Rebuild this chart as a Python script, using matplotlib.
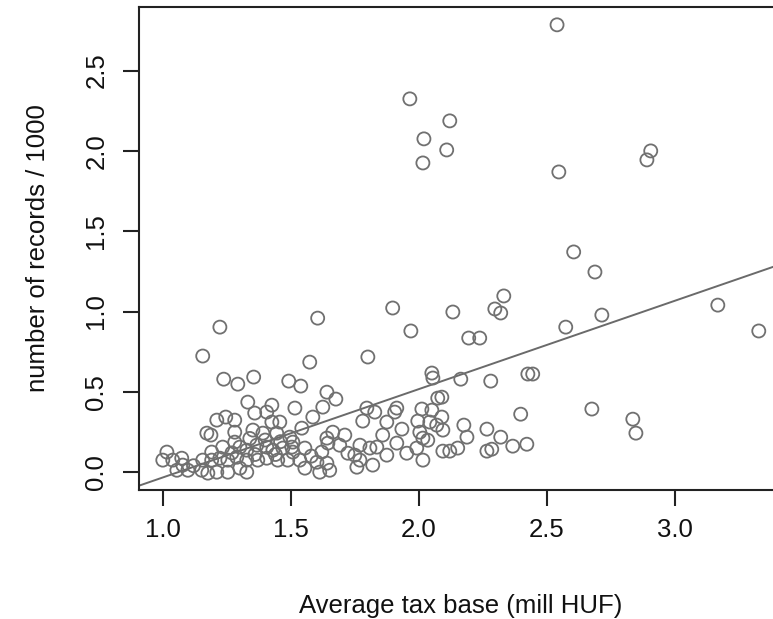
import matplotlib
matplotlib.use('Agg')
import matplotlib.pyplot as plt

# ── data ──────────────────────────────────────────────────────────────────────
tax_base = [
    2.540, 1.965, 2.121, 2.020, 2.109, 2.016, 2.906, 2.891, 2.547, 2.605,
    2.688, 3.168, 3.328, 2.715, 2.574, 2.332, 2.297, 2.320, 2.133, 1.898,
    1.969, 2.195, 2.238, 1.605, 1.223, 1.156, 1.574, 1.801, 1.238, 1.293,
    1.355, 1.492, 1.539, 1.641, 1.676, 2.051, 2.055, 2.164, 2.281, 2.426,
    2.445, 2.676, 2.836, 2.848, 2.398, 2.422, 2.367,
    2.090, 2.090, 2.094, 2.176, 2.266, 2.188, 2.320, 2.094, 2.121, 2.152,
    2.266, 2.285,
    1.625, 1.586, 1.516, 1.797, 1.828, 1.914, 1.906, 1.781, 1.875, 2.012,
    2.051, 2.074, 1.996, 2.043, 2.070, 1.543, 1.664, 1.711, 1.859, 1.934,
    2.004, 2.016, 2.035, 1.508, 1.555, 1.641, 1.645, 1.691, 1.723, 1.770,
    1.809, 1.836, 1.875, 1.914, 1.953, 1.992, 2.016, 1.508, 1.535, 1.555,
    1.602, 1.621, 1.641, 1.652, 1.613, 1.758, 1.770, 1.820, 1.750,
    1.332, 1.426, 1.359, 1.406, 1.211, 1.246, 1.281, 1.426, 1.457, 1.172,
    1.188, 1.281, 1.352, 1.391, 1.445, 1.496, 1.191, 1.234, 1.281, 1.301,
    1.328, 1.367, 1.406, 1.430, 1.469, 1.504, 1.016, 1.000, 1.039, 1.074,
    1.078, 1.156, 1.191, 1.223, 1.254, 1.289, 1.328, 1.371, 1.406, 1.449,
    1.488, 1.055, 1.098, 1.152, 1.176, 1.211, 1.254, 1.301, 1.328,
    1.340, 1.400, 1.460, 1.120, 1.270, 1.360, 1.440, 1.580,
]
records = [
    2.785, 2.324, 2.187, 2.075, 2.006, 1.925, 2.000, 1.944, 1.869, 1.371,
    1.246, 1.040, 0.879, 0.978, 0.903, 1.097, 1.016, 0.991, 0.997, 1.022,
    0.879, 0.835, 0.835, 0.959, 0.903, 0.723, 0.685, 0.717, 0.579, 0.548,
    0.592, 0.567, 0.536, 0.498, 0.455, 0.617, 0.586, 0.579, 0.567, 0.611,
    0.611, 0.393, 0.330, 0.243, 0.361, 0.174, 0.162,
    0.467, 0.343, 0.262, 0.293, 0.268, 0.218, 0.218, 0.131, 0.131, 0.150,
    0.131, 0.143,
    0.405, 0.343, 0.399, 0.399, 0.374, 0.399, 0.374, 0.318, 0.312, 0.393,
    0.386, 0.461, 0.318, 0.312, 0.293, 0.274, 0.249, 0.231, 0.231, 0.268,
    0.249, 0.212, 0.199, 0.187, 0.150, 0.212, 0.181, 0.168, 0.118, 0.168,
    0.150, 0.156, 0.106, 0.181, 0.118, 0.150, 0.075, 0.125, 0.075, 0.025,
    0.062, 0.125, 0.056, 0.012, 0.000, 0.031, 0.075, 0.044, 0.106,
    0.436, 0.417, 0.368, 0.374, 0.324, 0.343, 0.324, 0.312, 0.312, 0.243,
    0.231, 0.249, 0.262, 0.243, 0.243, 0.218, 0.125, 0.156, 0.187, 0.156,
    0.137, 0.168, 0.156, 0.137, 0.150, 0.156, 0.125, 0.075, 0.075, 0.087,
    0.044, 0.075, 0.075, 0.087, 0.075, 0.093, 0.075, 0.075, 0.087, 0.075,
    0.075, 0.012, 0.012, 0.012, -0.006, 0.000, 0.000, 0.025, 0.000,
    0.210, 0.200, 0.190, 0.040, 0.120, 0.110, 0.110, 0.100,
]

# fitted line (intercept, slope) as drawn in the reference
FIT_INTERCEPT = -0.583
FIT_SLOPE     = 0.55

X_TICKS = [1.0, 1.5, 2.0, 2.5, 3.0]
Y_TICKS = [0.0, 0.5, 1.0, 1.5, 2.0, 2.5]

# ── style ─────────────────────────────────────────────────────────────────────
plt.rcParams['font.family'] = ['Liberation Sans', 'DejaVu Sans']
FS       = 18.5
PT_COL   = '#707070'
LINE_COL = '#6a6a6a'
AX_COL   = '#222222'

fig = plt.figure(figsize=(7.73, 6.19), dpi=100)
fig.patch.set_facecolor('white')
ax = fig.add_axes([0.1798, 0.2084, 0.8326, 0.7803])

ax.scatter(tax_base, records, s=88, facecolors='none', edgecolors=PT_COL,
           linewidths=1.3, zorder=3)
ax.axline((0, FIT_INTERCEPT), slope=FIT_SLOPE, color=LINE_COL, linewidth=1.4,
          zorder=2)

ax.set_xlim(0.907, 3.421)
ax.set_ylim(-0.111, 2.896)
ax.set_xticks(X_TICKS)
ax.set_yticks(Y_TICKS)
ax.set_xticklabels([f'{v:.1f}' for v in X_TICKS])
ax.set_yticklabels([f'{v:.1f}' for v in Y_TICKS], rotation=90, va='center')

for spine in ax.spines.values():
    spine.set_edgecolor(AX_COL)
    spine.set_linewidth(1.5)

ax.tick_params(axis='both', direction='out', length=11.5, width=1.5,
               colors=AX_COL, labelsize=FS, labelcolor='#111111')
ax.tick_params(axis='x', pad=9)
ax.tick_params(axis='y', pad=10.5)

ax.set_xlabel('Average tax base (mill HUF)', fontsize=FS, color='#111111',
              labelpad=37)
ax.set_ylabel('number of records / 1000', fontsize=FS, color='#111111',
              labelpad=25)

fig.savefig('out.png', dpi=100, facecolor='white')
